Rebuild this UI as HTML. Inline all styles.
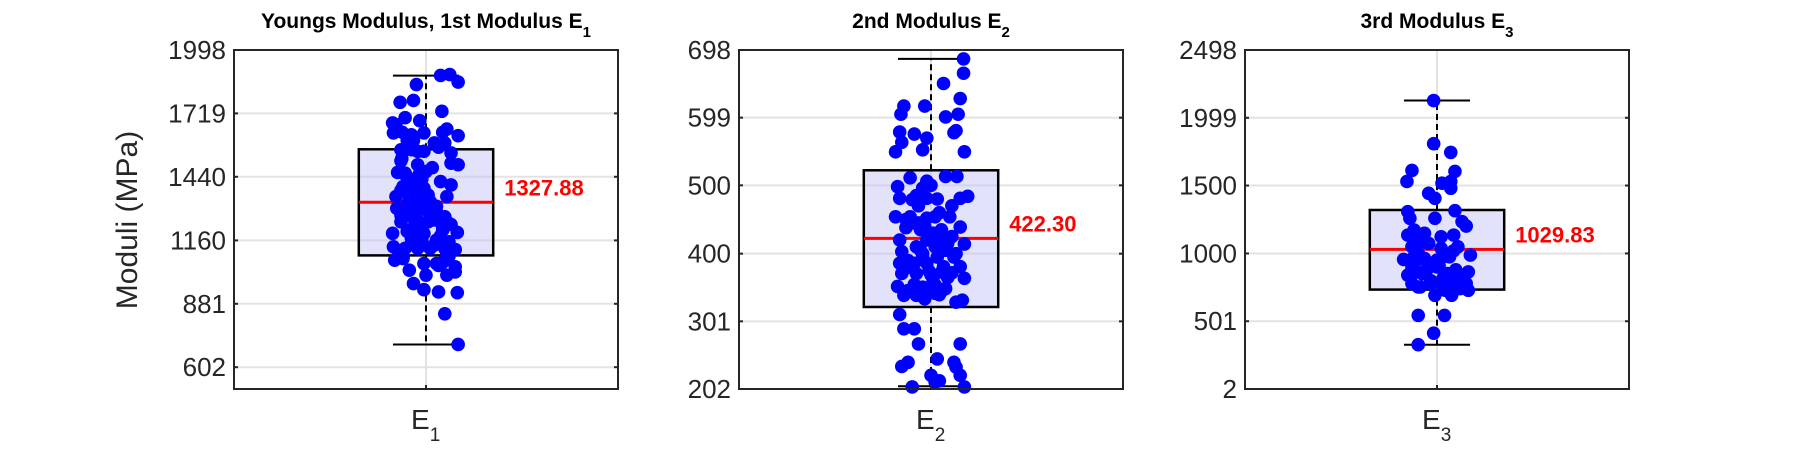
<!DOCTYPE html>
<html><head><meta charset="utf-8">
<style>
html,body{margin:0;padding:0;background:#fff;}
svg{display:block;font-family:"Liberation Sans",Arial,sans-serif;}
</style></head>
<body>
<svg id="chart" width="1800" height="450" viewBox="0 0 1800 450" xmlns="http://www.w3.org/2000/svg"></svg>
<script>
// ---------- Panel 1 data ----------
const e1Ticks = [602, 881, 1160, 1440, 1719, 1998];
const e1Ylim = [506, 1998];
const e1Stats = [702, 1094, 1327.88, 1561, 1885]; // lower whisker, q1, median, q3, upper whisker
const e1Values = [1886,1890,1857,1846,1768,1776,1728,1677,1670,1687,1636,1621,1633,1636,1625,1633,1589,1589,1552,1545,1559,1559,1552,1500,1493,1493,1463,1456,1459,1456,1419,1404,1397,1390,1363,1353,1353,1338,1331,1368,1287,1264,1301,1294,1279,1294,1250,1235,1242,1257,1242,1206,1195,1191,1206,1206,1161,1154,1169,1176,1125,1120,1132,1125,1125,1125,1063,1044,1073,1088,1058,1058,1007,1021,1029,1007,933,930,970,943,837,702,
  1520,1480,1440,1410,1380,1350,1320,1300,1270,1240,1220,1200,1180,1150,1140,1110,1090,1600,1570,1430,1370,1310,1260,1210,1160,1100,1080,1050,1330,1280,1190,1230,1360,1450,1510,1600,1650,1700,1390,1250];
const e1Jitter = [35,57,77,-23,-62,-30,38,-80,-72,-15,40,77,-78,-57,-35,-5,20,45,-5,60,-60,-35,-20,60,77,-20,0,-50,-68,-15,35,60,-55,-35,0,50,-72,-40,10,-20,25,45,-70,-45,-25,0,20,55,-60,-30,5,40,75,-80,-40,-10,25,55,-35,-10,45,70,-78,-50,-20,10,40,70,-75,-55,-5,25,50,70,-40,0,30,75,-30,-5,45,77,-58,15,
  -45,-25,-60,-5,-45,15,-60,-15,40,-45,35,-25,20,-65,55,-30,30,-10,-45,25,35,-30,-10,50,-55,30,-20,15,-5,60,5,-50,-60,-45,50,-50,-5,-25,40,30];
// ---------- Panel 2 data ----------
const e2Ticks = [202, 301, 400, 500, 599, 698];
const e2Ylim = [202, 698];
const e2Stats = [206, 322, 422.30, 522, 685];
const e2Values = [685,664,649,627,616,616,604,600,604,578,575,569,580,577,563,552,549,549,511,506,513,513,498,496,500,481,479,481,480,481,484,454,454,445,452,454,454,438,435,435,439,420,420,422,425,414,403,400,405,400,386,386,386,381,381,371,371,369,373,372,364,352,346,351,354,349,339,339,334,342,329,332,311,290,290,268,268,241,235,246,241,234,222,212,222,205,205,214,
  470,460,445,430,415,410,395,390,375,365,355,345,440,425,405,395,380,360,470,450,485,410,350,340,395];
const e2Jitter = [78,78,30,70,-65,-15,-72,35,65,-75,-40,-10,60,55,-70,-20,80,-85,-50,-10,35,62,-80,-20,0,-75,-45,-10,15,70,88,-85,-50,-30,-10,10,45,-60,-25,25,70,-75,-10,20,50,80,-70,-20,35,60,-75,-40,-10,30,70,-70,-35,0,25,50,80,-80,-55,-20,10,35,-65,-35,-15,10,60,75,-75,-65,-40,-30,70,-55,-70,15,55,60,0,10,70,-45,80,20,
  -30,20,-45,5,40,-35,15,-55,-5,40,-40,25,-15,30,-25,55,-50,5,50,-60,-35,10,-5,20,-20];
// ---------- Panel 3 data ----------
const e3Ticks = [2, 501, 1000, 1500, 1999, 2498];
const e3Ylim = [2, 2498];
const e3Stats = [328, 734, 1029.83, 1320, 2126];
const e3Values = [2126,1808,1744,1611,1604,1530,1517,1530,1443,1406,1480,1308,1259,1259,1315,1234,1202,1135,1172,1148,1123,1135,1061,1074,1037,1049,956,975,963,951,975,988,840,864,877,901,852,827,864,778,753,778,778,790,778,753,692,729,692,741,729,544,544,413,328,
  1100,1050,1000,980,930,900,880,850,820,800,1020,960,910,870,1080];
const e3Jitter = [-8,-8,33,-60,43,-72,12,33,-20,-5,33,-70,-65,-5,43,60,70,-70,-55,-30,10,40,-50,-20,10,50,-80,-55,-30,0,30,80,-70,-50,-25,0,25,50,75,-60,-40,-15,10,40,70,-45,-5,20,35,55,75,-45,18,-8,-45,
  -40,-60,-45,20,-20,-60,45,-35,15,-15,40,-40,5,-50,-25];

const titles = ["Youngs Modulus, 1st Modulus E", "2nd Modulus E", "3rd Modulus E"];
const subs = ["1", "2", "3"];
const medianLabels = ["1327.88", "422.30", "1029.83"];

const NS = "http://www.w3.org/2000/svg";
const svg = document.getElementById('chart');
function mk(tag, attrs, parent) {
  const el = document.createElementNS(NS, tag);
  for (const k in attrs) el.setAttribute(k, attrs[k]);
  (parent || svg).appendChild(el);
  return el;
}

const panels = [
  {ticks: e1Ticks, ylim: e1Ylim, stats: e1Stats, vals: e1Values, jit: e1Jitter, left: 234},
  {ticks: e2Ticks, ylim: e2Ylim, stats: e2Stats, vals: e2Values, jit: e2Jitter, left: 739},
  {ticks: e3Ticks, ylim: e3Ylim, stats: e3Stats, vals: e3Values, jit: e3Jitter, left: 1245}
];
const TOP = 50, BOT = 389, AW = 384;

panels.forEach((p, i) => {
  const n = i + 1;
  const g = mk('g', {});
  
  
  const L = p.left, R = L + AW;
  const ys = v => BOT - (v - p.ylim[0]) / (p.ylim[1] - p.ylim[0]) * (BOT - TOP);
  const xs = x => L + (x - 0.5) * AW; // xlim [0.5, 1.5]

  p.ticks.forEach(t => {
    const y = ys(t);
    const gl = mk('line', {x1: L, x2: R, y1: y, y2: y, stroke: '#e3e3e3', 'stroke-width': 2}, g);
    
    
  });
  const vg = mk('line', {x1: xs(1), x2: xs(1), y1: TOP, y2: BOT, stroke: '#e3e3e3', 'stroke-width': 2}, g);
  
  

  const [wl, q1, med, q3, wh] = p.stats;
  const bh = 0.175, ch = 0.086;
  const w1 = mk('line', {x1: xs(1), x2: xs(1), y1: ys(q3), y2: ys(wh), stroke: '#000', 'stroke-width': 2, 'stroke-dasharray': '6,4'}, g);
  
  
  const w2 = mk('line', {x1: xs(1), x2: xs(1), y1: ys(q1), y2: ys(wl), stroke: '#000', 'stroke-width': 2, 'stroke-dasharray': '6,4'}, g);
  
  
  const c1 = mk('line', {x1: xs(1 - ch), x2: xs(1 + ch), y1: ys(wh), y2: ys(wh), stroke: '#000', 'stroke-width': 2}, g);
  
  
  const c2 = mk('line', {x1: xs(1 - ch), x2: xs(1 + ch), y1: ys(wl), y2: ys(wl), stroke: '#000', 'stroke-width': 2}, g);
  
  
  const box = mk('rect', {x: xs(1 - bh), y: ys(q3), width: xs(1 + bh) - xs(1 - bh), height: ys(q1) - ys(q3), fill: 'rgba(190,190,245,0.45)', stroke: '#000', 'stroke-width': 2.5}, g);
  
  
  const ml = mk('line', {x1: xs(1 - bh), x2: xs(1 + bh), y1: ys(med), y2: ys(med), stroke: '#ff0000', 'stroke-width': 3}, g);
  
  

  p.vals.forEach((v, k) => {
    const c = mk('circle', {cx: xs(1 + p.jit[k] / 920), cy: ys(v), r: 6.8, fill: '#0000ff'}, g);
    
    
  });

  const mt = mk('text', {x: xs(1 + bh) + 11, y: ys(med) - 7, fill: '#ff0000', 'font-size': 22, 'font-weight': 'bold'}, g);
  mt.textContent = medianLabels[i];
  
  

  const fr = mk('rect', {x: L, y: TOP, width: AW, height: BOT - TOP, fill: 'none', stroke: '#262626', 'stroke-width': 2}, g);
  
  

  p.ticks.forEach(t => {
    const y = ys(t);
    mk('line', {x1: L, x2: L + 4, y1: y, y2: y, stroke: '#262626', 'stroke-width': 2}, g);
    mk('line', {x1: R - 4, x2: R, y1: y, y2: y, stroke: '#262626', 'stroke-width': 2}, g);
    const tl = mk('text', {x: L - 8, y: y + 9, 'text-anchor': 'end', fill: '#262626', 'font-size': 26}, g);
    tl.textContent = t;
    
    
  });
  mk('line', {x1: xs(1), x2: xs(1), y1: BOT, y2: BOT - 4, stroke: '#262626', 'stroke-width': 2}, g);

  const xl = mk('text', {x: xs(1) - 15, y: 429, fill: '#262626', 'font-size': 28}, g);
  
  
  const xe = mk('tspan', {}, xl); xe.textContent = 'E';
  const xsub = mk('tspan', {dy: 12, 'font-size': 19}, xl); xsub.textContent = subs[i];

  const tt = mk('text', {x: xs(1), y: 28, 'text-anchor': 'middle', fill: '#000', 'font-size': 21, 'font-weight': 'bold'}, g);
  
  
  const t1 = mk('tspan', {}, tt); t1.textContent = titles[i];
  const t2 = mk('tspan', {dy: 9, 'font-size': 15}, tt); t2.textContent = subs[i];
});

const yl = mk('text', {x: 0, y: 0, transform: 'translate(137,220) rotate(-90)', 'text-anchor': 'middle', fill: '#262626', 'font-size': 30});
yl.textContent = 'Moduli (MPa)';


</script>
</body></html>
